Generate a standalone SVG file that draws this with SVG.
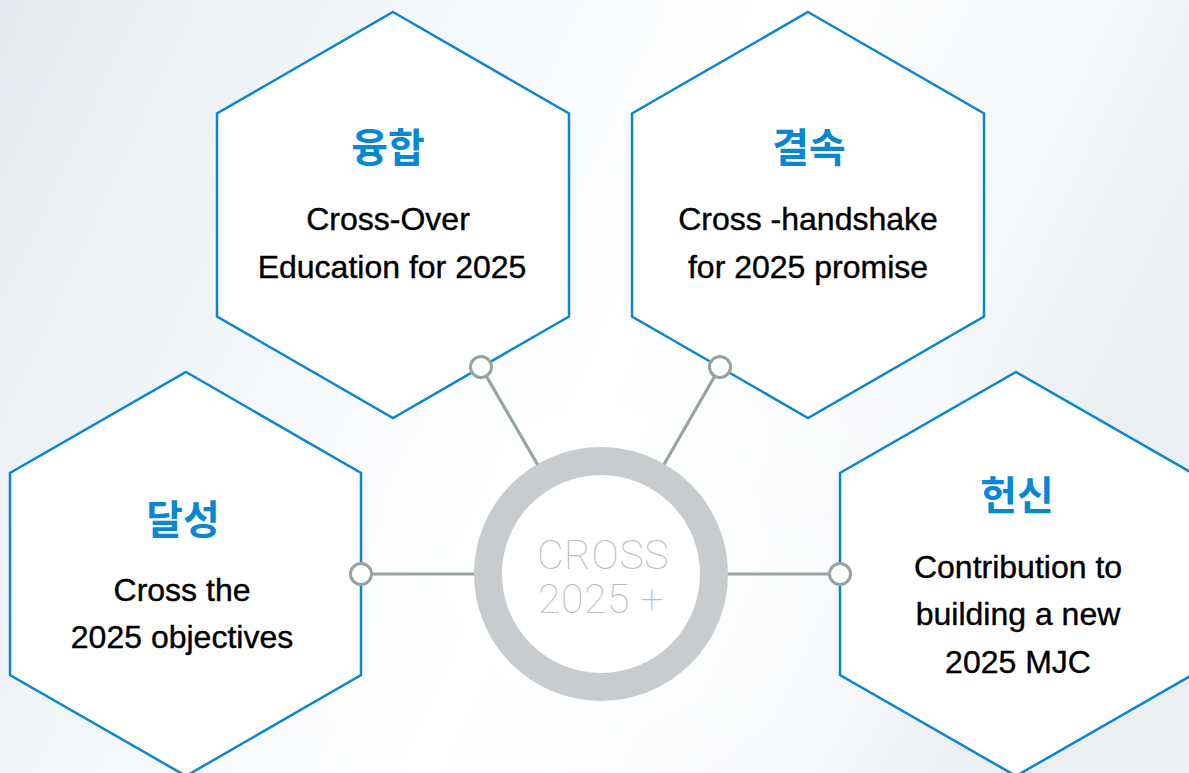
<svg xmlns="http://www.w3.org/2000/svg" width="1189" height="773" viewBox="0 0 1189 773">
  <defs>
    <linearGradient id="bg" x1="0" y1="0" x2="1" y2="0.3">
      <stop offset="0" stop-color="#e6eaee"/>
      <stop offset="0.35" stop-color="#f5f8fb"/>
      <stop offset="0.6" stop-color="#ffffff"/>
      <stop offset="0.85" stop-color="#f6f8fa"/>
      <stop offset="1" stop-color="#eceff2"/>
    </linearGradient>
    <radialGradient id="glow" cx="600" cy="560" r="420" gradientUnits="userSpaceOnUse">
      <stop offset="0" stop-color="#ffffff" stop-opacity="0.9"/>
      <stop offset="1" stop-color="#ffffff" stop-opacity="0"/>
    </radialGradient>
    <style>
      .hex { fill: #ffffff; stroke: #0a87d2; stroke-width: 2.5; stroke-linejoin: miter; }
      .title { font-family: "Noto Sans CJK KR", "Noto Sans", sans-serif; font-weight: 700; font-size: 40px; fill: #0a87d2; text-anchor: middle; }
      .body { font-family: "Liberation Sans", Arial, sans-serif; font-size: 32px; fill: #000000; stroke: #000000; stroke-width: 0.4; text-anchor: middle; }
      .link { stroke: #97a4a1; stroke-width: 3.2; fill: none; }
      .dot { fill: #ffffff; stroke: #97a4a1; stroke-width: 3; }
      .ring { fill: #ffffff; stroke: #c9ccce; stroke-width: 28; }
      .center { font-family: Roboto, "Liberation Sans", sans-serif; font-weight: 100; font-size: 41px; letter-spacing: 0.6px; fill: #b9bdc0; text-anchor: middle; }
    </style>
  </defs>

  <rect x="0" y="0" width="1189" height="773" fill="url(#bg)"/>
  <rect x="0" y="0" width="1189" height="773" fill="url(#glow)"/>

  <g id="node-yunghap">
    <polygon class="hex" points="393,12 569,113.5 569,316.5 393,418 217,316.5 217,113.5"/>
    <text class="title" x="388" y="162">융합</text>
    <text class="body" x="388" y="230">Cross-Over</text>
    <text class="body" x="392" y="278">Education for 2025</text>
  </g>

  <g id="node-gyeolsok">
    <polygon class="hex" points="808,12 984,113.5 984,316.5 808,418 632,316.5 632,113.5"/>
    <text class="title" x="809" y="162">결속</text>
    <text class="body" x="808" y="230">Cross -handshake</text>
    <text class="body" x="808" y="278">for 2025 promise</text>
  </g>

  <g id="node-dalseong">
    <polygon class="hex" points="186,372 361,473 361,675 186,776 10,675 10,473"/>
    <text class="title" x="183" y="534">달성</text>
    <text class="body" x="182" y="601">Cross the</text>
    <text class="body" x="182" y="648">2025 objectives</text>
  </g>

  <g id="node-heonsin">
    <polygon class="hex" points="1016,372 1192,473 1192,675 1016,776 840,675 840,473"/>
    <text class="title" x="1017" y="510">헌신</text>
    <text class="body" x="1018" y="578">Contribution to</text>
    <text class="body" x="1018" y="625">building a new</text>
    <text class="body" x="1018" y="673">2025 MJC</text>
  </g>

  <g id="connectors">
    <line class="link" x1="481" y1="367" x2="601" y2="574"/>
    <line class="link" x1="720" y1="367" x2="601" y2="574"/>
    <line class="link" x1="361" y1="574" x2="601" y2="574"/>
    <line class="link" x1="840" y1="574" x2="601" y2="574"/>
    <circle class="dot" cx="481" cy="367" r="10.5"/>
    <circle class="dot" cx="720" cy="367" r="10.5"/>
    <circle class="dot" cx="361" cy="574" r="10.5"/>
    <circle class="dot" cx="840" cy="574" r="10.5"/>
  </g>

  <g id="node-center">
    <circle class="ring" cx="601" cy="574" r="113"/>
    <text class="center" x="603" y="569">CROSS</text>
    <text class="center" x="601" y="613">2025 +</text>
  </g>
</svg>
